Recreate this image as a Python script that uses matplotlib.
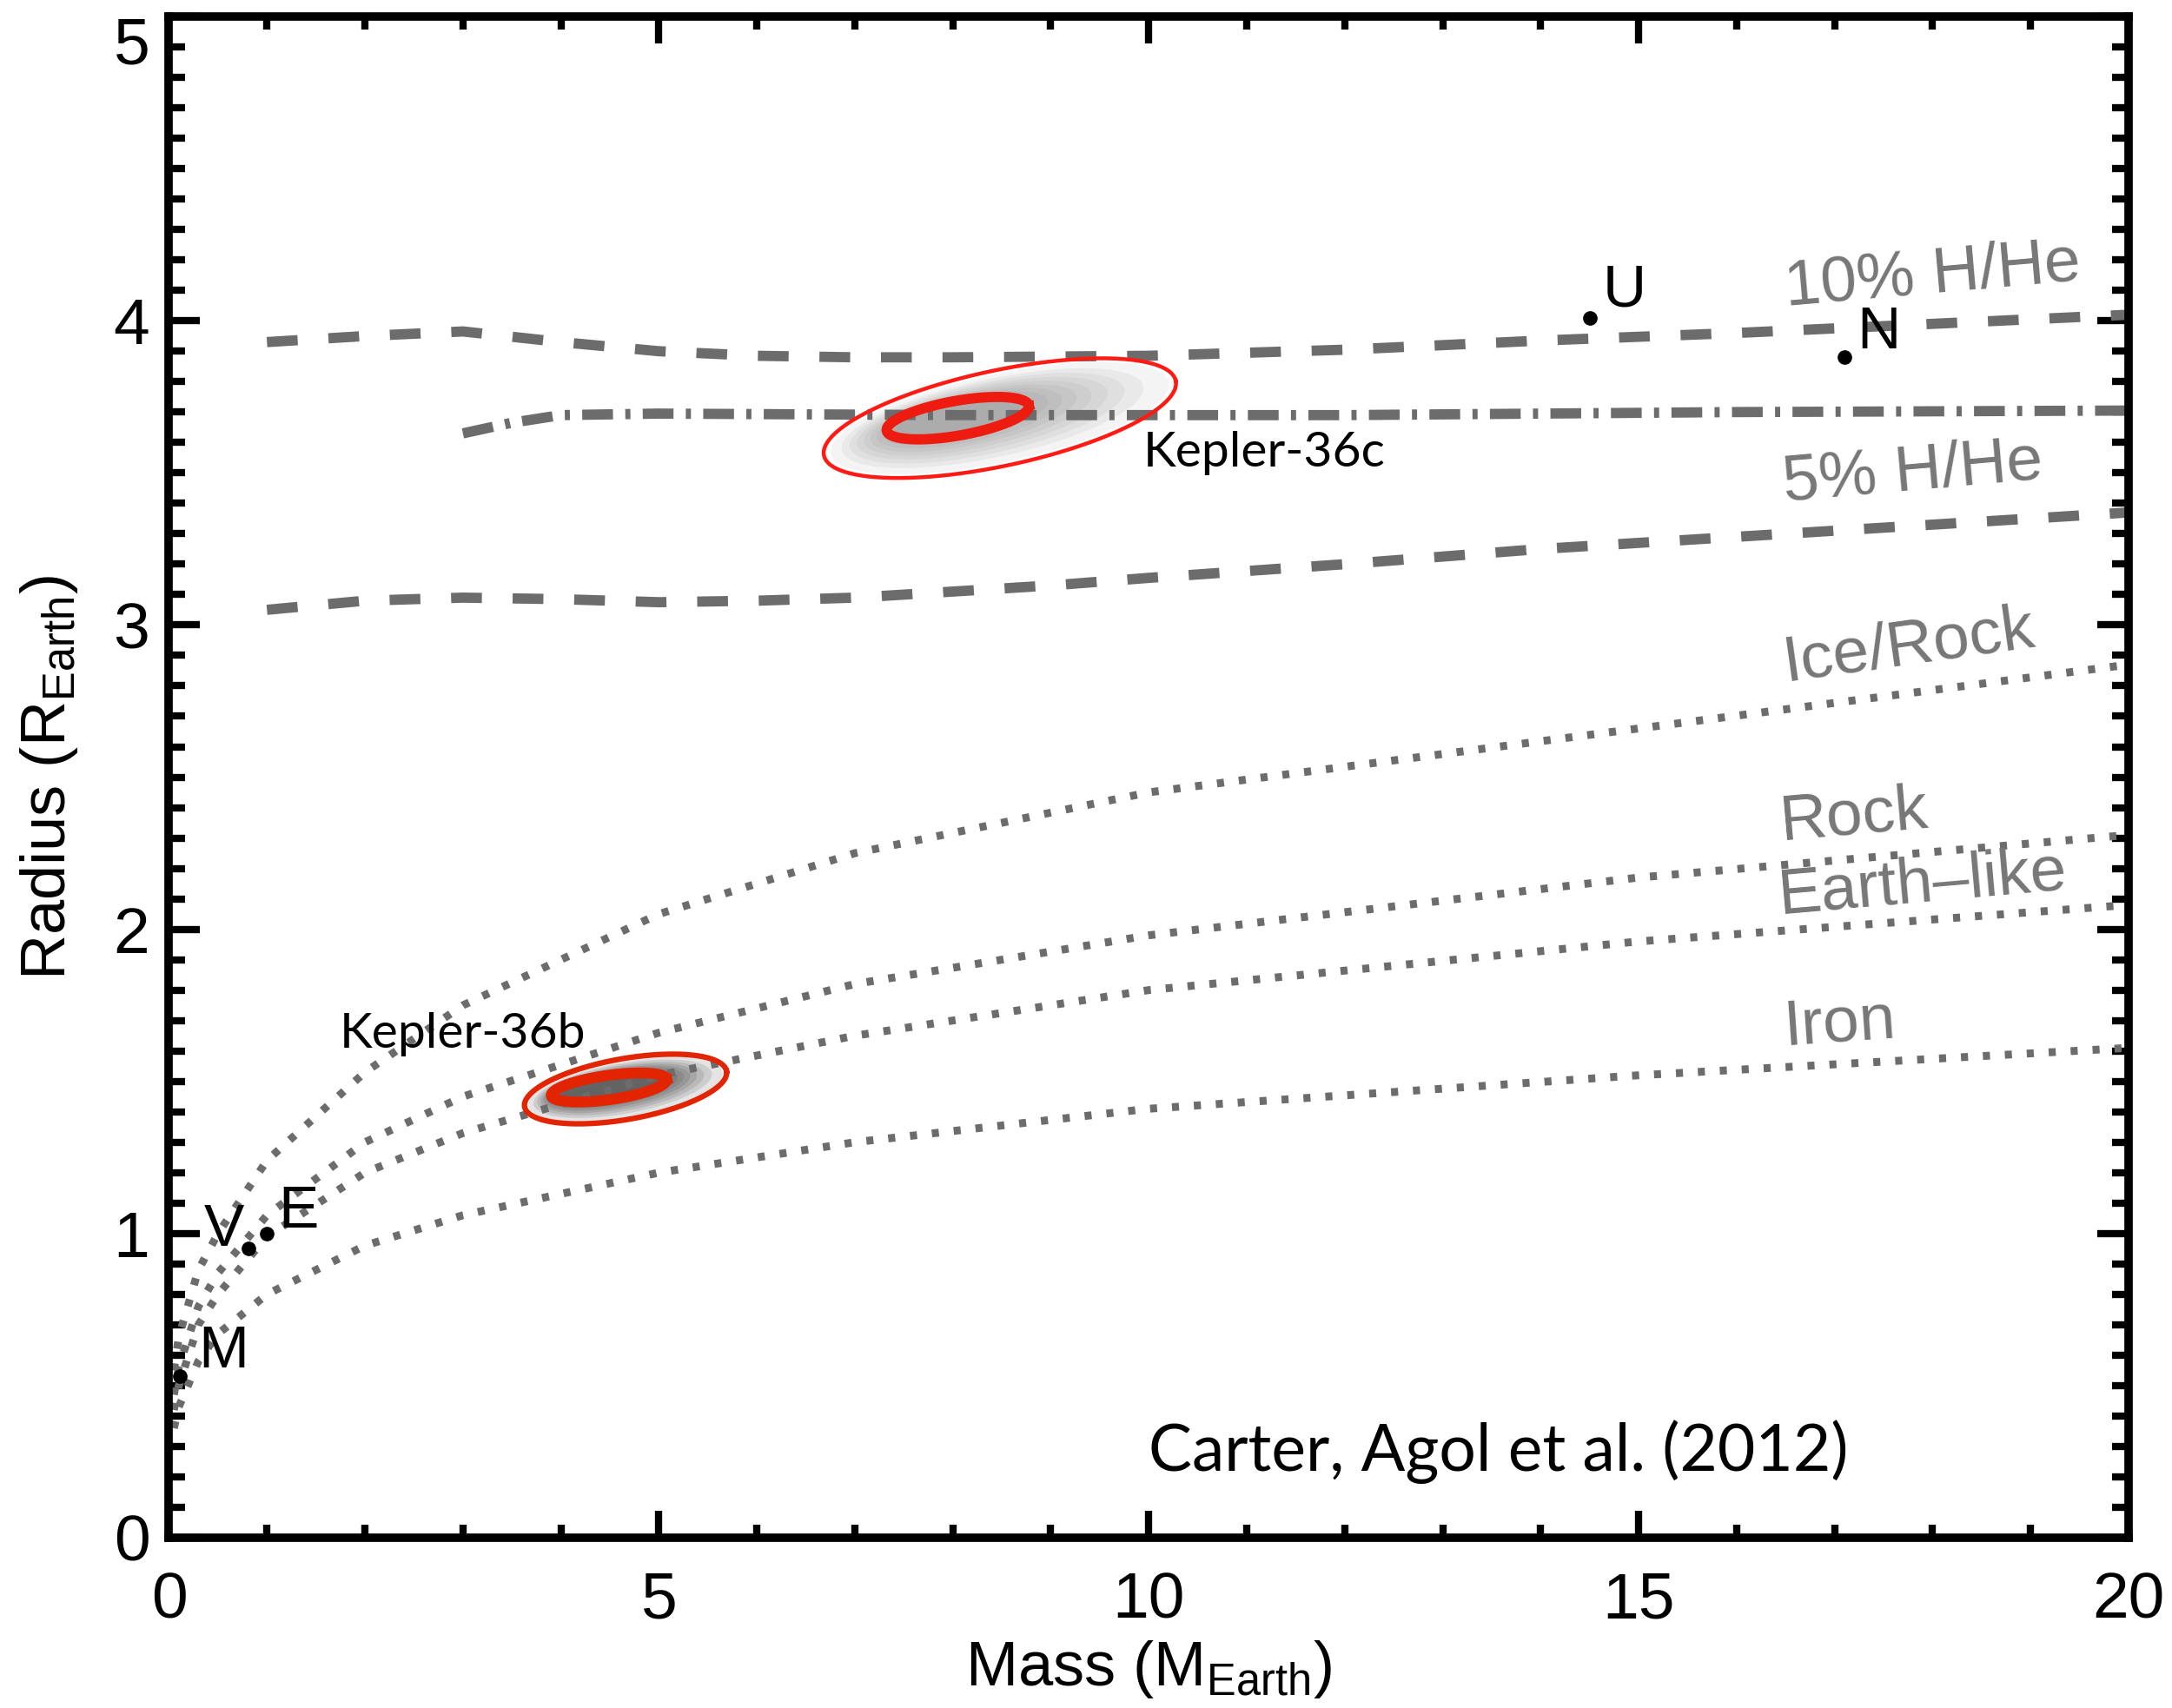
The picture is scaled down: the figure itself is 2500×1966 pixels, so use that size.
import matplotlib
matplotlib.use("Agg")
import matplotlib.pyplot as plt
import matplotlib.font_manager as fm
from matplotlib.ticker import MultipleLocator
import numpy as np

names = {f.name for f in fm.fontManager.ttflist}
narrow = "Liberation Sans Narrow" if "Liberation Sans Narrow" in names else "Liberation Sans"
plt.rcParams["font.family"] = [narrow, "DejaVu Sans"]
plt.rcParams["mathtext.fontset"] = "custom"
plt.rcParams["mathtext.rm"] = narrow
plt.rcParams["mathtext.it"] = narrow

# composition curves (mass in M_Earth, radius in R_Earth)
hhe10_m = [1.0, 2.0, 3.0, 4.0, 5.0, 6.0, 7.0, 8.0, 10.0, 12.0, 14.0, 16.0, 18.0, 20.0]
hhe10_r = [3.93, 3.95, 3.965, 3.93, 3.90, 3.885, 3.88, 3.88, 3.885, 3.905, 3.935, 3.96, 3.99, 4.02]
k36c_m = [3.0, 3.5, 4.0, 5.0, 8.0, 12.0, 16.0, 20.0]
k36c_r = [3.63, 3.665, 3.69, 3.695, 3.69, 3.69, 3.70, 3.705]
hhe5_m = [1.0, 2.0, 3.0, 4.0, 5.0, 6.0, 7.0, 8.0, 9.0, 10.0, 12.0, 14.0, 16.0, 18.0, 20.0]
hhe5_r = [3.05, 3.08, 3.09, 3.085, 3.075, 3.08, 3.09, 3.11, 3.13, 3.155, 3.20, 3.25, 3.29, 3.33, 3.37]

solid_m = [0.05, 0.1, 0.3, 0.5, 1.0, 2.0, 3.0, 5.0, 7.0, 10.0, 15.0, 20.0]
icerock_r = [0.55, 0.66, 0.88, 1.0, 1.24, 1.53, 1.75, 2.05, 2.25, 2.45, 2.66, 2.87]
rock_r = [0.47, 0.56, 0.76, 0.87, 1.06, 1.30, 1.45, 1.66, 1.82, 1.98, 2.17, 2.31]
earth_r = [0.42, 0.50, 0.70, 0.80, 0.99, 1.20, 1.33, 1.52, 1.65, 1.80, 1.96, 2.08]
iron_r = [0.36, 0.43, 0.58, 0.67, 0.80, 0.96, 1.06, 1.20, 1.30, 1.41, 1.52, 1.61]

# solar system planets
pl_name = ["M", "V", "E", "U", "N"]
pl_mass = [0.107, 0.815, 1.0, 14.5, 17.1]
pl_rad = [0.53, 0.95, 1.0, 4.01, 3.88]

# Kepler-36 confidence ellipses: centre (mass, radius), semi-axes (px), tilt (deg)
# order: 36c outer, 36c inner, 36b outer, 36b inner
ell_cx = [8.48, 8.05, 4.66, 4.49]
ell_cy = [3.68, 3.68, 1.475, 1.48]
ell_a = [207, 83, 118, 67]
ell_b = [55, 20, 35, 14]
ell_ang = [12, 10, 10, 8]

W, H = 2500, 1966
fig = plt.figure(figsize=(W / 100, H / 100), dpi=100)
ax = fig.add_axes([0.0778, 0.0997, 0.9022, 0.8906])
ax.set_xlim(0, 20)
ax.set_ylim(0, 5)
kx = W * 0.9022 / 20.0
ky = H * 0.8906 / 5.0


def ellipse(cx, cy, a, b, ang):
    t = np.linspace(0, 2 * np.pi, 300)
    th = np.radians(ang)
    px = a * np.cos(t) * np.cos(th) - b * np.sin(t) * np.sin(th)
    py = a * np.cos(t) * np.sin(th) + b * np.sin(t) * np.cos(th)
    return cx + px / kx, cy + py / ky


# grey posterior clouds: nested translucent ellipses between outer and inner contour
for o, n, col, al in [(0, 1, "0.4", 0.07), (2, 3, "0.2", 0.13)]:
    for f in np.linspace(0.0, 1.0, 10) ** 0.8:
        cx = ell_cx[o] + (ell_cx[n] - ell_cx[o]) * f
        cy = ell_cy[o] + (ell_cy[n] - ell_cy[o]) * f
        a = ell_a[o] * 0.96 + (ell_a[n] * 0.9 - ell_a[o] * 0.96) * f
        b = ell_b[o] * 0.92 + (ell_b[n] * 0.9 - ell_b[o] * 0.92) * f
        ex, ey = ellipse(cx, cy, a, b, ell_ang[o])
        ax.fill(ex, ey, color=col, alpha=al, lw=0, zorder=1)

gray = "#6c6c6c"
ax.plot(hhe10_m, hhe10_r, color=gray, lw=8.5, ls=(0, (3, 3)), dash_capstyle="butt", zorder=2)
ax.plot(hhe5_m, hhe5_r, color=gray, lw=8.5, ls=(0, (3, 3)), dash_capstyle="butt", zorder=2)
ax.plot(k36c_m, k36c_r, color=gray, lw=8.5, ls=(0, (3, 1.2, 0.5, 1.2)), dash_capstyle="butt", zorder=2)
for r in [icerock_r, rock_r, earth_r, iron_r]:
    ax.plot(solid_m, r, color=gray, lw=6.5, ls=(0, (0.9, 1.9)), dash_capstyle="butt", zorder=2)

# red ellipses
ell_col = ["#ff1a14", "#ee1c10", "#e32400", "#e32400"]
ell_lw = [3.2, 8.5, 4.5, 9.0]
for i in range(4):
    ex, ey = ellipse(ell_cx[i], ell_cy[i], ell_a[i], ell_b[i], ell_ang[i])
    ax.plot(ex, ey, color=ell_col[i], lw=ell_lw[i], zorder=3)

ax.plot(pl_mass, pl_rad, "o", color="black", ms=11, zorder=4)
lab_dx = [0.45, -0.25, 0.32, 0.35, 0.35]
lab_dy = [0.08, 0.06, 0.07, 0.09, 0.08]
for n, m, r, dx, dy in zip(pl_name, pl_mass, pl_rad, lab_dx, lab_dy):
    ax.text(m + dx, r + dy, n, fontsize=50, ha="center", va="center", zorder=5)

gl = dict(color="#777777", fontsize=54, ha="center", va="center", rotation_mode="anchor")
ax.text(18.0, 4.15, "10% H/He", rotation=5, **gl)
ax.text(17.8, 3.50, "5% H/He", rotation=5, **gl)
ax.text(17.75, 2.93, "Ice/Rock", rotation=8, **gl)
ax.text(17.2, 2.37, "Rock", rotation=5, **gl)
ax.text(17.9, 2.15, "Earth\u2013like", rotation=5, **gl)
ax.text(17.05, 1.69, "Iron", rotation=4, **gl)

cal = ["Lato", "DejaVu Sans"]
ax.text(9.94, 3.52, "Kepler-36c", fontsize=41, family=cal, zorder=5)
ax.text(1.74, 1.61, "Kepler-36b", fontsize=41, family=cal, zorder=5)
ax.text(10.0, 0.22, "Carter, Agol et al. (2012)", fontsize=54, family=cal, zorder=5)

ax.set_xlabel(r"Mass (M$_{\rm Earth}$)", fontsize=52, labelpad=6)
ax.set_ylabel(r"Radius (R$_{\rm Earth}$)", fontsize=52, labelpad=28)

ax.xaxis.set_major_locator(MultipleLocator(5))
ax.xaxis.set_minor_locator(MultipleLocator(1))
ax.yaxis.set_major_locator(MultipleLocator(1))
ax.yaxis.set_minor_locator(MultipleLocator(0.1))
ax.tick_params(which="both", direction="in", top=True, right=True, width=6, colors="black")
ax.tick_params(axis="x", which="major", length=22, pad=28, labelsize=54)
ax.tick_params(axis="x", which="minor", length=11)
ax.tick_params(axis="y", which="major", length=26, pad=16, labelsize=54)
ax.tick_params(axis="y", which="minor", length=14)
for s in ax.spines.values():
    s.set_linewidth(7)

# keep the top "5" inside the figure
fig.canvas.draw()
for tk in ax.yaxis.get_major_ticks():
    if tk.label1.get_text() == "5":
        tk.label1.set_verticalalignment("top")
        tk.label1.set_y(4.985)

fig.savefig("out.png", dpi=100)
